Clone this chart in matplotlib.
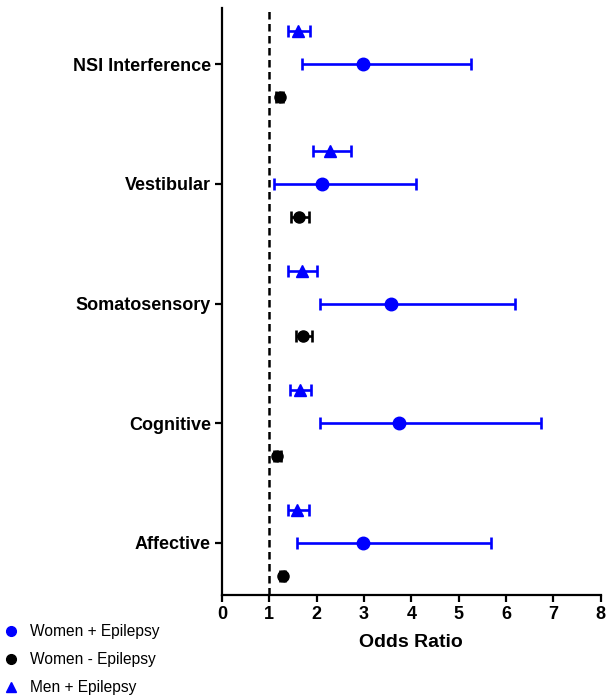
import matplotlib.pyplot as plt
from matplotlib.lines import Line2D
import numpy as np

plt.rcParams['font.family'] = ['Liberation Sans', 'DejaVu Sans']

categories = ['Affective', 'Cognitive', 'Somatosensory', 'Vestibular', 'NSI Interference']

# Women + Epilepsy (blue circles)
women_epi = [2.99, 3.75, 3.58, 2.11, 2.99]
women_epi_lo = [1.58, 2.07, 2.07, 1.09, 1.70]
women_epi_hi = [5.69, 6.74, 6.19, 4.09, 5.27]

# Women - Epilepsy (black circles)
women_noepi = [1.28, 1.17, 1.72, 1.63, 1.23]
women_noepi_lo = [1.22, 1.10, 1.57, 1.46, 1.15]
women_noepi_hi = [1.34, 1.25, 1.90, 1.83, 1.30]

# Men + Epilepsy (blue triangles)
men_epi = [1.59, 1.65, 1.69, 2.29, 1.61]
men_epi_lo = [1.39, 1.44, 1.40, 1.92, 1.40]
men_epi_hi = [1.84, 1.88, 2.00, 2.73, 1.85]

blue = '#0000ff'

fig = plt.figure(figsize=(6.13, 6.98), dpi=100)
ax = fig.add_axes([0.362, 0.1476, 0.618, 0.841])

y = np.arange(len(categories))
offset = 0.275


def draw_series(ax, vals, lo, hi, ypos, color, marker, ms):
    vals = np.array(vals)
    err = [vals - np.array(lo), np.array(hi) - vals]
    ax.errorbar(vals, ypos, xerr=err, fmt=marker, color=color, ecolor=color,
                markersize=ms, elinewidth=1.9, capsize=4.5, capthick=1.9, zorder=3)


draw_series(ax, men_epi, men_epi_lo, men_epi_hi, y + offset, blue, '^', 8.5)
draw_series(ax, women_epi, women_epi_lo, women_epi_hi, y, blue, 'o', 9)
draw_series(ax, women_noepi, women_noepi_lo, women_noepi_hi, y - offset, 'black', 'o', 8)

ax.axvline(1, color='black', linestyle=(0, (3, 1.8)), linewidth=1.8, zorder=2)

ax.set_xlim(0, 8)
ax.set_ylim(-0.435, 4.47)
ax.set_xticks(range(0, 9))
ax.set_yticks(y)
ax.set_yticklabels(categories, fontweight='bold', fontsize=13)
for lab in ax.get_xticklabels():
    lab.set_fontweight('bold')
    lab.set_fontsize(13)
ax.set_xlabel('Odds Ratio', fontweight='bold', fontsize=14, labelpad=8)

ax.spines['top'].set_visible(False)
ax.spines['right'].set_visible(False)
ax.spines['left'].set_linewidth(1.6)
ax.spines['bottom'].set_linewidth(1.6)
ax.tick_params(width=1.6, length=5, pad=3)

handles = [
    Line2D([], [], marker='o', color=blue, linestyle='none', markersize=7),
    Line2D([], [], marker='o', color='black', linestyle='none', markersize=7),
    Line2D([], [], marker='^', color=blue, linestyle='none', markersize=7),
]
fig.legend(handles, ['Women + Epilepsy', 'Women - Epilepsy', 'Men + Epilepsy'],
           loc='upper left', bbox_to_anchor=(-0.015, 1 - 610 / 698), frameon=False,
           fontsize=11.2, handlelength=0.8, handletextpad=0.8, labelspacing=0.85)

fig.savefig('out.png', dpi=100)
